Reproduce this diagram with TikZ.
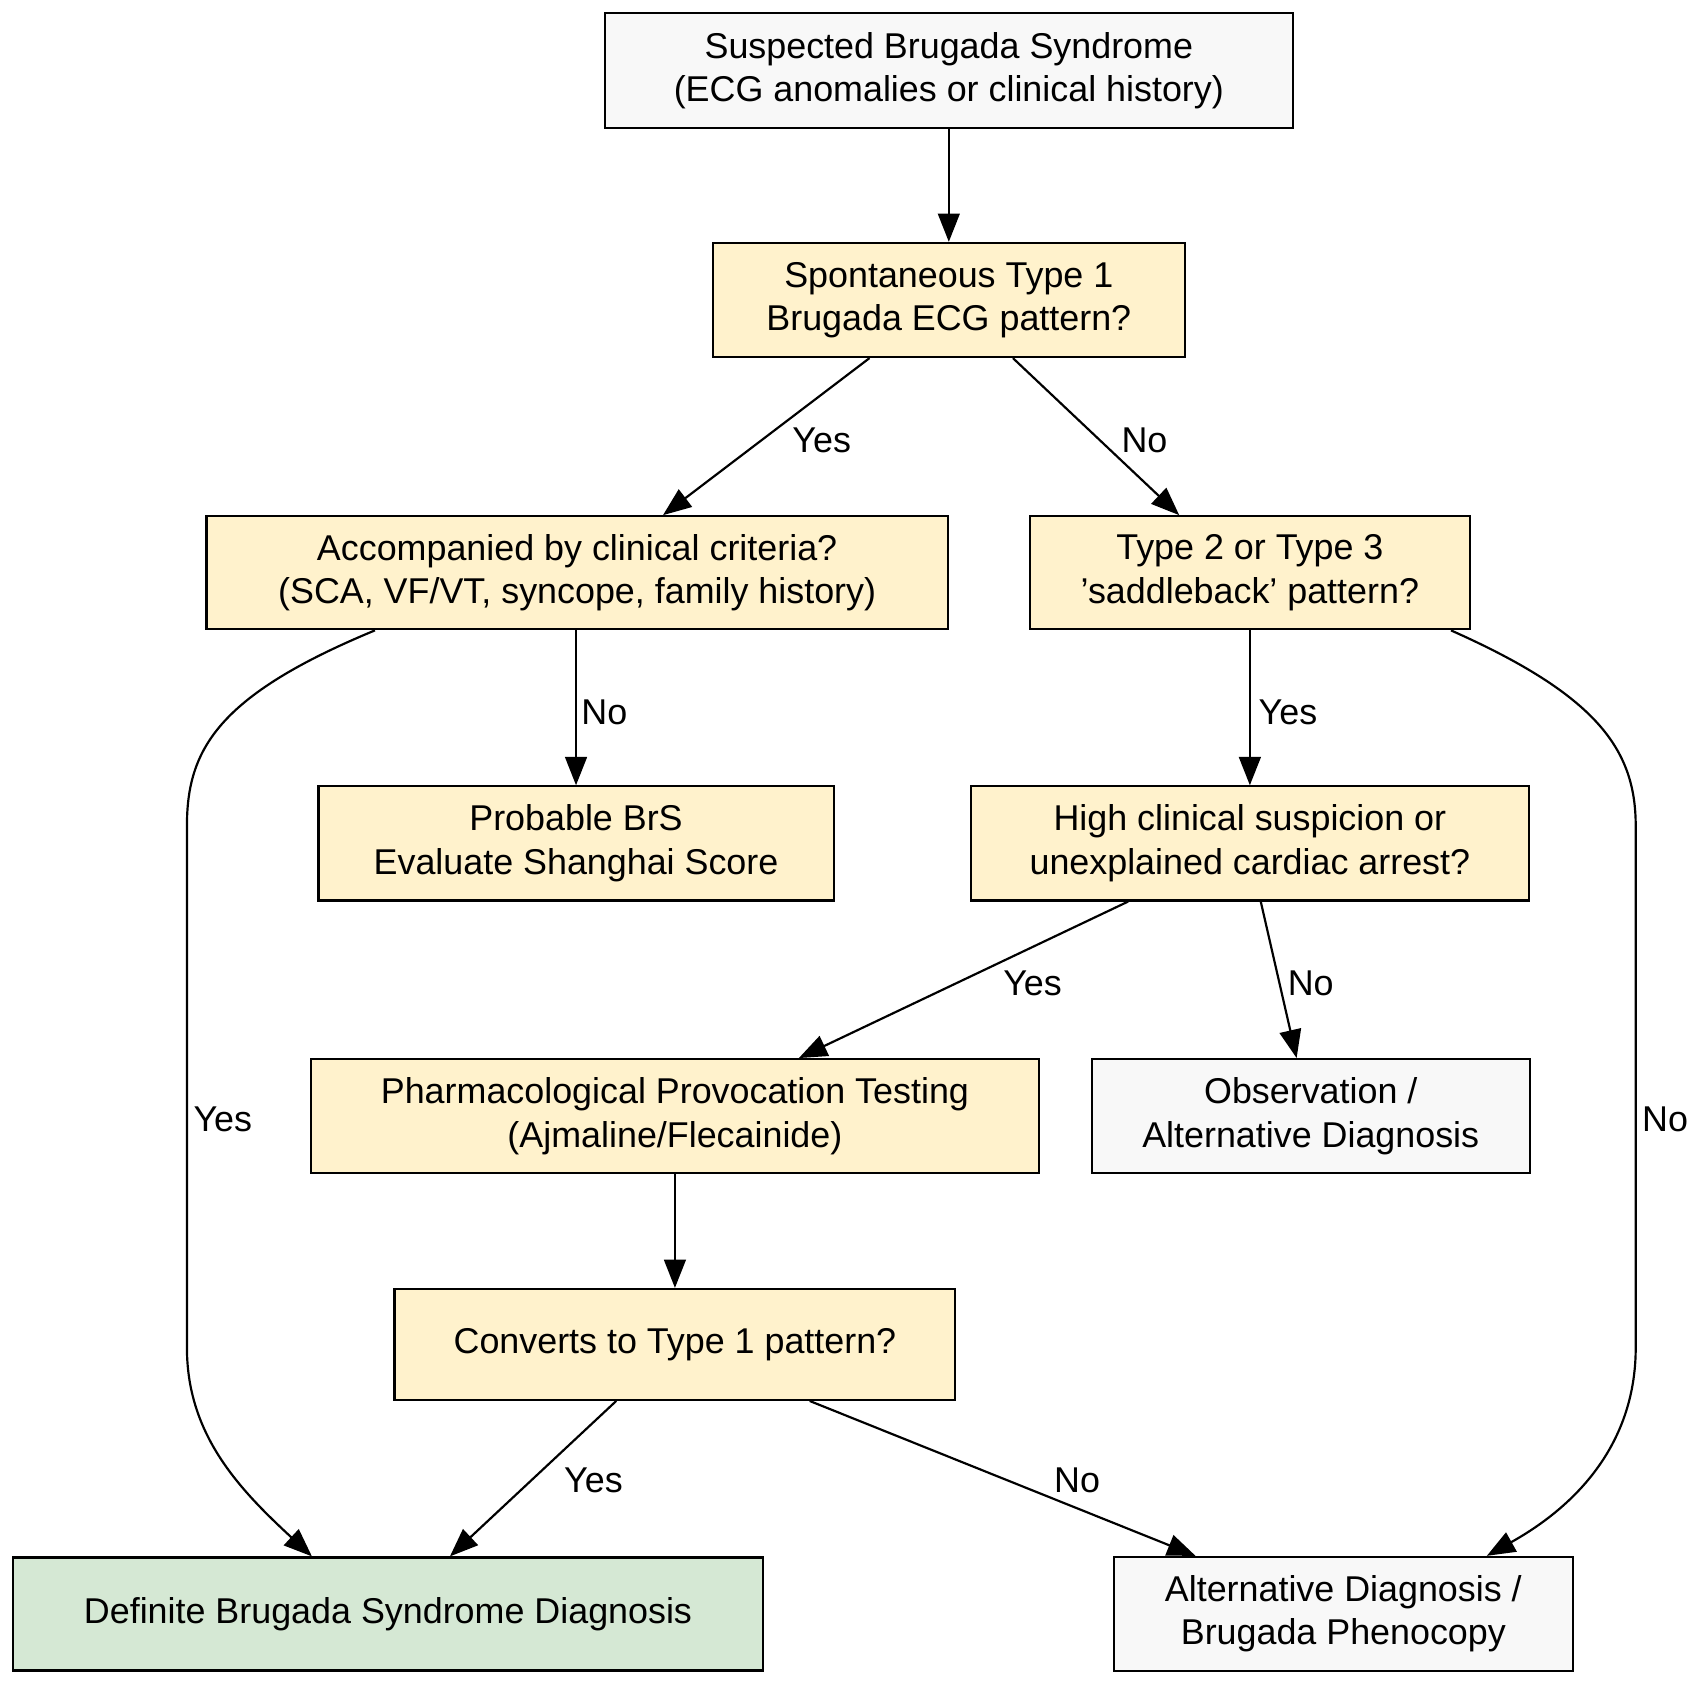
\documentclass[tikz,border=0pt]{standalone}
\usepackage{fontspec}
\setmainfont{Liberation Sans}
\usetikzlibrary{arrows.meta}
\definecolor{yel}{HTML}{FFF2CC}
\definecolor{gry}{HTML}{F8F8F8}
\definecolor{grn}{HTML}{D5E8D4}
\begin{document}
\begin{tikzpicture}[x=1pt,y=-1pt,
  box/.style={draw,line width=2pt,rectangle,align=center,font=\fontsize{33}{40}\selectfont,inner sep=0pt},
  q/.style={box,fill=yel},
  g/.style={box,fill=gry},
  arr/.style={line width=2pt,-{Triangle[length=26pt,width=20pt]}},
  lab/.style={font=\fontsize{33}{40}\selectfont}]
\useasboundingbox (0,0) rectangle (1566,1547);
\node[g,minimum width=633pt,minimum height=106pt] (a) at (873,65) {Suspected Brugada Syndrome\\(ECG anomalies or clinical history)};
\node[q,minimum width=434pt,minimum height=105pt] (b) at (873,276) {Spontaneous Type 1\\Brugada ECG pattern?};
\node[q,minimum width=682pt,minimum height=104pt] (c) at (531,527) {Accompanied by clinical criteria?\\(SCA, VF/VT, syncope, family history)};
\node[q,minimum width=405pt,minimum height=104pt] (d) at (1150,527) {Type 2 or Type 3\\'saddleback' pattern?};
\node[q,minimum width=474pt,minimum height=105pt] (e) at (530,776) {Probable BrS\\Evaluate Shanghai Score};
\node[q,minimum width=513pt,minimum height=105pt] (f) at (1150,776) {High clinical suspicion or\\unexplained cardiac arrest?};
\node[q,minimum width=670pt,minimum height=105pt] (h) at (621,1027) {Pharmacological Provocation Testing\\(Ajmaline/Flecainide)};
\node[g,minimum width=403pt,minimum height=105pt] (o) at (1206,1027) {Observation /\\Alternative Diagnosis};
\node[q,minimum width=516pt,minimum height=102pt] (k) at (621,1237) {Converts to Type 1 pattern?};
\node[box,fill=grn,minimum width=690pt,minimum height=104pt] (def) at (357,1485) {Definite Brugada Syndrome Diagnosis};
\node[g,minimum width=422pt,minimum height=105pt] (alt) at (1236,1485) {Alternative Diagnosis /\\Brugada Phenocopy};
\draw[arr] (a) -- (b);
\draw[arr] (b.south -| 800,0) -- (c.north -| 610,0);
\node[lab] (l1) at (756,405) {Yes};
\draw[arr] (b.south -| 932,0) -- (d.north -| 1085,0);
\node[lab] (l2) at (1053,405) {No};
\draw[arr] (c.south -| 530,0) -- (e.north -| 530,0);
\node[lab] (l3) at (556,655) {No};
\draw[arr] (c.south -| 345,0) .. controls (200,640) and (172,690) .. (172,760) -- (172,1240) .. controls (172,1320) and (220,1370) .. (def.north -| 287,0);
\node[lab] (ly1) at (205,1030) {Yes};
\draw[arr] (d.south -| 1150,0) -- (f.north -| 1150,0);
\node[lab] (l4) at (1185,655) {Yes};
\draw[arr] (d.south -| 1335,0) .. controls (1470,640) and (1505,690) .. (1505,760) -- (1505,1240) .. controls (1505,1320) and (1460,1380) .. (alt.north -| 1368,0);
\node[lab] (ln1) at (1532,1030) {No};
\draw[arr] (f.south -| 1038,0) -- (h.north -| 735,0);
\node[lab] (l5) at (950,905) {Yes};
\draw[arr] (f.south -| 1160,0) -- (o.north -| 1193,0);
\node[lab] (l6) at (1206,905) {No};
\draw[arr] (h) -- (k);
\draw[arr] (k.south -| 567,0) -- (def.north -| 414,0);
\node[lab] (l7) at (546,1362) {Yes};
\draw[arr] (k.south -| 745,0) -- (alt.north -| 1100,0);
\node[lab] (l8) at (991,1362) {No};
\end{tikzpicture}
\end{document}
